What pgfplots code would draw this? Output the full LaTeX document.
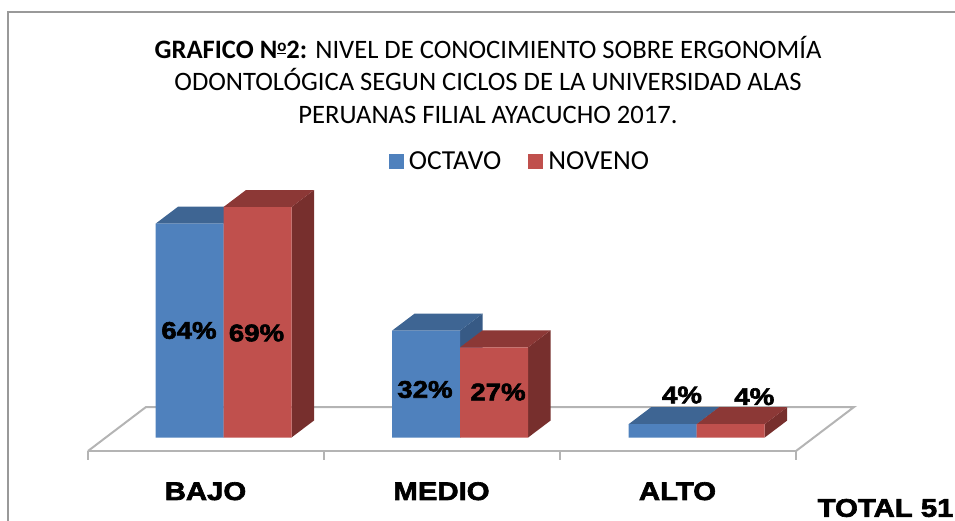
\documentclass[border=0pt]{standalone}
\usepackage{pgfplots}
\pgfplotsset{compat=1.18}
\usepackage{fontspec}
\setmainfont{Carlito}
\newfontfamily\heavy[FakeBold=2.5,FakeStretch=1.15]{Liberation Sans Bold}
\definecolor{bluef}{HTML}{4F81BD}
\definecolor{bluet}{HTML}{3E6593}
\definecolor{blues}{HTML}{375A85}
\definecolor{redf}{HTML}{C0504D}
\definecolor{redt}{HTML}{8C3836}
\definecolor{reds}{HTML}{772F2D}
\definecolor{frame}{HTML}{999999}
\definecolor{floor}{HTML}{B4B4B4}
\begin{document}
\begin{tikzpicture}[x=1pt,y=1pt]
\path[use as bounding box] (0,0) rectangle (955,521);
\draw[frame,line width=1.5pt] (8,-5) -- (8,509) -- (960,509);
\begin{axis}[
  at={(88pt,70pt)}, anchor=south west,
  scale only axis, width=708pt, height=261.7pt,
  xmin=-0.5727, xmax=2.4197, ymin=-4.04, ymax=74.31,
  clip=false,
  axis x line*=bottom, axis y line=none,
  axis line style={floor,line width=2pt,-},
  xtick={-0.0761,0.9214,1.9188},
  xticklabels={BAJO,MEDIO,ALTO},
  major tick length=0pt,
  extra x ticks={-0.5727,0.4248,1.4222,2.4197},
  extra x tick labels={},
  extra x tick style={major tick length=9pt,tickwidth=9pt,tick style={floor,line width=1.4pt},xtick pos=bottom,tick align=outside},
  x tick label style={font=\heavy\fontsize{25.5}{25.5}\selectfont,text=black,anchor=base,yshift=-49pt},
  title={\textbf{GRAFICO N\raisebox{7pt}{\fontsize{17}{17}\selectfont\underline{o}}2:} NIVEL DE CONOCIMIENTO SOBRE ERGONOMÍA\\ODONTOLÓGICA SEGUN CICLOS DE LA UNIVERSIDAD ALAS\\PERUANAS FILIAL AYACUCHO 2017.},
  title style={at={(0.565,1.395)},anchor=center,align=center,font=\fontsize{26.6}{32.5}\selectfont},
  legend columns=2,
  legend style={draw=none,fill=none,at={(0.6101,1.106)},anchor=center,font=\fontsize{27.5}{28}\selectfont,
    /tikz/every odd column/.append style={column sep=3pt},
    /tikz/every even column/.append style={column sep=25pt}},
]
% floor
\addplot[floor,line width=2pt,forget plot] coordinates {(-0.5727,-4.04) (-0.3276,9.13) (2.6649,9.13) (2.4197,-4.04)};
% OCTAVO depth faces
\addplot[fill=blues,draw=none,forget plot] coordinates {(0,0) (0.0951,5.09) (0.0951,69.09) (0,64)} --cycle;
\addplot[fill=bluet,draw=none,forget plot] coordinates {(-0.2874,64) (-0.1923,69.09) (0.0951,69.09) (0,64)} --cycle;
\addplot[fill=blues,draw=none,forget plot] coordinates {(1,0) (1.0951,5.09) (1.0951,37.09) (1,32)} --cycle;
\addplot[fill=bluet,draw=none,forget plot] coordinates {(0.7126,32) (0.8077,37.09) (1.0951,37.09) (1,32)} --cycle;
\addplot[fill=blues,draw=none,forget plot] coordinates {(2,0) (2.0951,5.09) (2.0951,9.09) (2,4)} --cycle;
\addplot[fill=bluet,draw=none,forget plot] coordinates {(1.7126,4) (1.8077,9.09) (2.0951,9.09) (2,4)} --cycle;
% OCTAVO
\addplot[ybar,bar width=68pt,bar shift=-34pt,fill=bluef,draw=none,
  legend image code/.code={\fill[bluef] (-4pt,-7.5pt) rectangle (11pt,7.5pt);}]
  coordinates {(0,64) (1,32) (2,4)};
\addlegendentry{OCTAVO}
% NOVENO depth faces
\addplot[fill=reds,draw=none,forget plot] coordinates {(0.2874,0) (0.3825,5.09) (0.3825,74.09) (0.2874,69)} --cycle;
\addplot[fill=redt,draw=none,forget plot] coordinates {(0,69) (0.0951,74.09) (0.3825,74.09) (0.2874,69)} --cycle;
\addplot[fill=reds,draw=none,forget plot] coordinates {(1.2874,0) (1.3825,5.09) (1.3825,32.09) (1.2874,27)} --cycle;
\addplot[fill=redt,draw=none,forget plot] coordinates {(1,27) (1.0951,32.09) (1.3825,32.09) (1.2874,27)} --cycle;
\addplot[fill=reds,draw=none,forget plot] coordinates {(2.2874,0) (2.3825,5.09) (2.3825,9.09) (2.2874,4)} --cycle;
\addplot[fill=redt,draw=none,forget plot] coordinates {(2,4) (2.0951,9.09) (2.3825,9.09) (2.2874,4)} --cycle;
% NOVENO
\addplot[ybar,bar width=68pt,bar shift=34pt,fill=redf,draw=none,
  legend image code/.code={\fill[redf] (-4pt,-7.5pt) rectangle (11pt,7.5pt);}]
  coordinates {(0,69) (1,27) (2,4)};
\addlegendentry{NOVENO}
\begin{scope}[every node/.style={font=\heavy\fontsize{24}{24}\selectfont,text=black,anchor=center}]
\node at (axis cs:-0.1458,32.04) {64\%};
\node at (axis cs:0.1395,31.29) {69\%};
\node at (axis cs:0.8516,14.37) {32\%};
\node at (axis cs:1.1602,13.62) {27\%};
\node at (axis cs:1.9379,12.72) {4\%};
\node at (axis cs:2.2435,12.22) {4\%};
\end{scope}
\end{axis}
\node[anchor=west,inner sep=0pt,font=\heavy\fontsize{25.5}{25.5}\selectfont] at (817.5,13) {TOTAL 51};
\end{tikzpicture}
\end{document}
